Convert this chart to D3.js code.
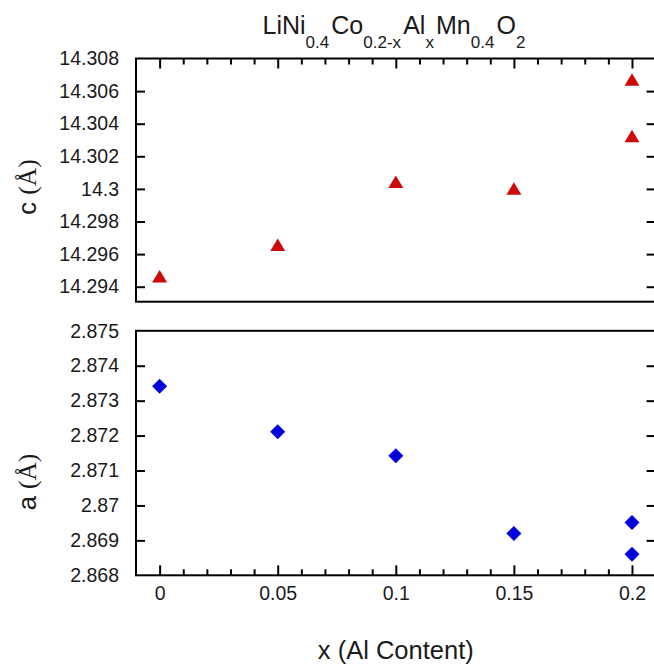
<!DOCTYPE html>
<html>
<head>
<meta charset="utf-8">
<script src="https://cdn.jsdelivr.net/npm/d3@7"></script>
<style>
  body { margin: 0; background: #fff; }
  svg { display: block; font-family: "Liberation Sans", Arial, sans-serif; }
</style>
</head>
<body>
<svg id="chart" width="654" height="664"></svg>
<script>
// data
const xValues = [0, 0.05, 0.1, 0.15, 0.2, 0.2];
const cValues = [14.29463, 14.29656, 14.30042, 14.30001, 14.3067, 14.30323];
const aValues = [2.87341, 2.87211, 2.87142, 2.8692, 2.86951, 2.8686];
const xTicks = [0, 0.05, 0.1, 0.15, 0.2];
const cTicks = [14.294, 14.296, 14.298, 14.3, 14.302, 14.304, 14.306, 14.308];
const aTicks = [2.868, 2.869, 2.87, 2.871, 2.872, 2.873, 2.874, 2.875];

const svg = d3.select("#chart");
const left = 136, right = 655.6;

// shared x scale
const x = d3.scaleLinear().domain([-0.01, 0.21]).range([left, right]);
const minorTicks = d3.range(0, 0.2001, 0.01).filter(v => Math.abs(v / 0.05 - Math.round(v / 0.05)) > 1e-6);

const fmt = d => String(+d.toFixed(3));

// panels
const topPanel = { y0: 58.5, y1: 301.7 };
const botPanel = { y0: 330.8, y1: 575.3 };

const yC = d3.scaleLinear().domain([14.29308, 14.308]).range([topPanel.y1, topPanel.y0]);
const yA = d3.scaleLinear().domain([2.868, 2.875]).range([botPanel.y1, botPanel.y0]);

function styleAxis(g) {
  g.select(".domain").remove();
  g.selectAll(".tick line").attr("stroke", "#000").attr("stroke-width", 2);
  g.selectAll(".tick text").attr("fill", "#1a1a1a")
    .style("font-family", "Liberation Sans, Arial, sans-serif").style("font-size", "19.5px");
}

function panel(y, ticks, p, xSide) {
  const inner = ticks.filter(t => y(t) > p.y0 + 1 && y(t) < p.y1 - 1);
  const onFrame = ticks.filter(t => !inner.includes(t));
  // left axis with labels
  svg.append("g").attr("transform", `translate(${left},0)`)
    .call(d3.axisLeft(y).tickValues(inner).tickSize(-9).tickPadding(17).tickFormat(fmt))
    .call(styleAxis);
  // labels for ticks that sit on the frame
  svg.append("g").attr("transform", `translate(${left},0)`)
    .call(d3.axisLeft(y).tickValues(onFrame).tickSize(0).tickPadding(17).tickFormat(fmt))
    .call(styleAxis);
  // right axis, inward ticks
  svg.append("g").attr("transform", `translate(${right},0)`)
    .call(d3.axisRight(y).tickValues(inner).tickSize(-9).tickFormat(""))
    .call(styleAxis);

  if (xSide === "top") {
    svg.append("g").attr("transform", `translate(0,${p.y0})`)
      .call(d3.axisTop(x).tickValues(xTicks).tickSize(-10).tickFormat(""))
      .call(styleAxis);
    svg.append("g").attr("transform", `translate(0,${p.y0})`)
      .call(d3.axisTop(x).tickValues(minorTicks).tickSize(-6).tickFormat(""))
      .call(styleAxis);
  } else {
    svg.append("g").attr("transform", `translate(0,${p.y1})`)
      .call(d3.axisBottom(x).tickValues(xTicks).tickSize(-10).tickPadding(11).tickFormat(fmt))
      .call(styleAxis);
    svg.append("g").attr("transform", `translate(0,${p.y1})`)
      .call(d3.axisBottom(x).tickValues(minorTicks).tickSize(-6).tickFormat(""))
      .call(styleAxis);
  }

  // frame
  svg.append("rect")
    .attr("x", left).attr("y", p.y0)
    .attr("width", right - left).attr("height", p.y1 - p.y0)
    .attr("fill", "none").attr("stroke", "#000").attr("stroke-width", 2);
}

panel(yC, cTicks, topPanel, "top");
panel(yA, aTicks, botPanel, "bottom");

// markers: triangle (bbox centred) and diamond
const tri = "M0,-6.5L7.5,6L-7.5,6Z";
const diamond = "M0,-7.5L7.5,0L0,7.5L-7.5,0Z";

svg.append("g").selectAll("path")
  .data(xValues.map((d, i) => [d, cValues[i]]))
  .join("path")
  .attr("d", tri)
  .attr("transform", d => `translate(${x(d[0])},${yC(d[1])})`)
  .attr("fill", "#cc0a0a");

svg.append("g").selectAll("path")
  .data(xValues.map((d, i) => [d, aValues[i]]))
  .join("path")
  .attr("d", diamond)
  .attr("transform", d => `translate(${x(d[0])},${yA(d[1])})`)
  .attr("fill", "#0000dd");

// y titles
function yTitle(letter, cx, cy) {
  const t = svg.append("text")
    .attr("transform", `translate(${cx},${cy}) rotate(-90)`)
    .attr("text-anchor", "middle")
    .attr("fill", "#1a1a1a")
    .style("font-size", "25.5px");
  t.append("tspan").text(letter + " ");
  t.append("tspan").style("font-family", "Liberation Serif, Times New Roman, serif").text("(Å)");
}
yTitle("c", 36, 187);
yTitle("a", 36, 482);

// x title
svg.append("text")
  .attr("x", (left + right) / 2).attr("y", 659)
  .attr("text-anchor", "middle")
  .attr("fill", "#1a1a1a")
  .style("font-size", "25.5px")
  .text("x (Al Content)");

// title with subscripts
const title = svg.append("text")
  .attr("x", 395).attr("y", 34)
  .attr("text-anchor", "middle")
  .attr("fill", "#1a1a1a")
  .style("font-size", "25px");
const parts = [["LiNi", "0.4"], ["Co", "0.2-x"], ["Al", "x"], ["Mn", "0.4"], ["O", "2"]];
parts.forEach(([main, sub]) => {
  title.append("tspan").text(main);
  title.append("tspan").attr("dy", 14).style("font-size", "17px").text(sub);
  title.append("tspan").attr("dy", -14).text("\u200a");
});
</script>
</body>
</html>
